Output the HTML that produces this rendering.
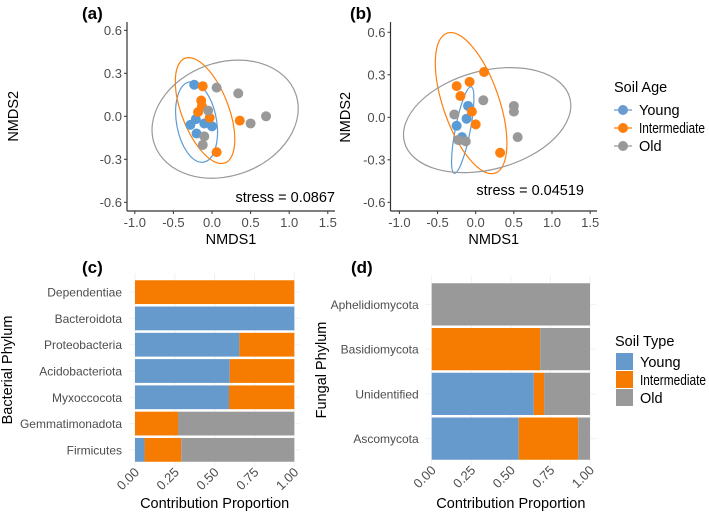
<!DOCTYPE html>
<html><head><meta charset="utf-8"><style>
body{margin:0;background:#fff}
svg{display:block;font-family:"Liberation Sans",sans-serif}
.tk{fill:#4d4d4d;font-size:13px}
.bk{fill:#4d4d4d;font-size:12px}
.ttl{fill:#000;font-size:14.5px}
.pl{font-weight:bold;font-size:17px;fill:#000}
</style></head><body>
<svg id="fig" width="709" height="518" viewBox="0 0 709 518">
<g id="pa"></g>
<g id="pb"></g>
<g id="pc"></g>
<g id="pd"></g>
<g>
<text x="614" y="92" class="ttl" font-size="14.5">Soil Age</text>
<circle cx="623" cy="110" r="5" fill="#6a9bd1"/><line x1="614" x2="632" y1="110" y2="110" stroke="#6a9bd1" stroke-width="1.2"/>
<text x="639" y="115" class="ttl" font-size="13.5">Young</text>
<circle cx="623" cy="128" r="5" fill="#ff7f0e"/><line x1="614" x2="632" y1="128" y2="128" stroke="#ff7f0e" stroke-width="1.2"/>
<text x="639" y="133" class="ttl" font-size="13.5" textLength="66" lengthAdjust="spacingAndGlyphs">Intermediate</text>
<circle cx="623" cy="146" r="5" fill="#999"/><line x1="614" x2="632" y1="146" y2="146" stroke="#999" stroke-width="1.2"/>
<text x="639" y="151" class="ttl" font-size="13.5">Old</text>
</g>
<g>
<text x="615" y="346" class="ttl" font-size="13.5">Soil Type</text>
<rect x="616" y="353" width="17" height="17" fill="#6699cc"/><text x="640" y="367" class="ttl" font-size="13.5">Young</text>
<rect x="616" y="371" width="17" height="17" fill="#f57c00"/><text x="640" y="385" class="ttl" font-size="13.5" textLength="66" lengthAdjust="spacingAndGlyphs">Intermediate</text>
<rect x="616" y="389" width="17" height="17" fill="#999"/><text x="640" y="403" class="ttl" font-size="13.5">Old</text>
</g>
</svg>
<script>
const NS="http://www.w3.org/2000/svg";
// Panel (a) data
const aYoungX=[-0.23,-0.21,-0.28,-0.10,0.0,-0.20];
const aYoungY=[0.22,-0.02,-0.06,-0.05,-0.07,-0.12];
const aInterX=[-0.12,-0.14,-0.13,-0.18,-0.03,0.36,0.06];
const aInterY=[0.21,0.11,0.07,0.03,-0.01,-0.03,-0.25];
const aOldX=[0.06,0.34,-0.05,-0.10,-0.12,0.50,0.70];
const aOldY=[0.20,0.16,0.04,-0.14,-0.20,-0.05,0.0];
// Panel (b) data
const bYoungX=[-0.10,-0.12,-0.25,-0.18,-0.21];
const bYoungY=[0.08,-0.01,-0.06,-0.14,-0.16];
const bInterX=[0.11,-0.25,-0.08,-0.20,-0.05,0.0,0.32];
const bInterY=[0.32,0.22,0.25,0.15,0.04,-0.05,-0.25];
const bOldX=[0.10,-0.28,0.50,0.50,0.55,-0.13,-0.23];
const bOldY=[0.12,0.02,0.08,0.04,-0.14,-0.17,-0.16];
const xTicks=[-1.0,-0.5,0.0,0.5,1.0,1.5];
const yTicks=[0.6,0.3,0.0,-0.3,-0.6];
// Panel (c) data
const cCats=["Dependentiae","Bacteroidota","Proteobacteria","Acidobacteriota","Myxoccocota","Gemmatimonadota","Firmicutes"];
const cYoung=[0,1,0.655,0.595,0.59,0,0.06];
const cInter=[1,0,0.345,0.405,0.41,0.27,0.23];
const cOld=[0,0,0,0,0,0.73,0.71];
// Panel (d) data
const dCats=["Aphelidiomycota","Basidiomycota","Unidentified","Ascomycota"];
const dYoung=[0,0,0.645,0.55];
const dInter=[0,0.685,0.065,0.375];
const dOld=[1,0.315,0.29,0.075];
const pTicks=["0.00","0.25","0.50","0.75","1.00"];

function el(p,t,a,txt){const e=document.createElementNS(NS,t);for(const k in a)e.setAttribute(k,a[k]);if(txt!==undefined)e.textContent=txt;p.appendChild(e);return e;}

function scatter(g,o){
  const sx=v=>o.x0+v*o.kx, sy=v=>o.y0-v*o.ky;
  el(g,"line",{x1:o.ax,x2:o.ax,y1:22,y2:o.by,stroke:"#333","stroke-width":1.2});
  el(g,"line",{x1:o.ax,x2:o.rx,y1:o.by,y2:o.by,stroke:"#333","stroke-width":1.2});
  xTicks.forEach(v=>{el(g,"line",{x1:sx(v),x2:sx(v),y1:o.by,y2:o.by+3,stroke:"#333"});
    const t=el(g,"text",{x:sx(v),y:o.by+16,"text-anchor":"middle",class:"tk"},v.toFixed(1));
    
    });
  yTicks.forEach(v=>{el(g,"line",{x1:o.ax-3,x2:o.ax,y1:sy(v),y2:sy(v),stroke:"#333"});
    const t=el(g,"text",{x:o.ax-5,y:sy(v)+4.5,"text-anchor":"end",class:"tk"},v.toFixed(1));
    
    });
  o.ell.forEach(e=>{const c=sx(e[0]),d=sy(e[1]);
    const q=el(g,"ellipse",{cx:c,cy:d,rx:e[2],ry:e[3],transform:`rotate(${e[4]} ${c} ${d})`,fill:"none",stroke:e[5],"stroke-width":1.2});
    
    });
  o.series.forEach(s=>{s[0].forEach((v,i)=>{
    const p=el(g,"circle",{cx:sx(v),cy:sy(s[1][i]),r:5,fill:s[2]});
    
    });});
  const xt=el(g,"text",{x:(o.ax+o.rx)/2,y:o.by+33,"text-anchor":"middle",class:"ttl"},"NMDS1");
  
  
  const yt=el(g,"text",{x:0,y:0,transform:`translate(${o.ytx} ${sy(0)}) rotate(-90)`,"text-anchor":"middle",class:"ttl"},"NMDS2");
  
  
  const st=el(g,"text",{x:o.stx,y:o.sty,"text-anchor":"end",class:"ttl"},o.stress);
  
  
  const pl=el(g,"text",{x:o.plx,y:19,class:"pl"},o.label);
  
  
}
scatter(document.getElementById("pa"),{x0:212,kx:77.2,y0:116.3,ky:143.3,ax:127,rx:335,by:211,ytx:18,stx:335,sty:202,stress:"stress = 0.0867",plx:82,label:"(a)",
  series:[[aYoungX,aYoungY,"#5b9bd5"],[aInterX,aInterY,"#ff7f0e"],[aOldX,aOldY,"#999"]],
  ell:[[-0.2,-0.04,20,40.7,-10,"#5b9bd5"],[-0.09,0.04,23.5,56,-21,"#ff7f0e"],[0.17,-0.02,75,56.6,-20,"#999"]]});
scatter(document.getElementById("pb"),{x0:475.7,kx:76.3,y0:117.3,ky:141.7,ax:390.5,rx:597,by:211,ytx:350,stx:584,sty:195,stress:"stress = 0.04519",plx:350,label:"(b)",
  series:[[bYoungX,bYoungY,"#5b9bd5"],[bInterX,bInterY,"#ff7f0e"],[bOldX,bOldY,"#999"]],
  ell:[[-0.17,-0.09,7.5,44,11,"#5b9bd5"],[-0.06,0.10,28,74,-19,"#ff7f0e"],[0.15,-0.02,85.6,49.3,-15,"#999"]]});

function bars(g,o){
  const sx=v=>o.x0+v*(o.x1-o.x0);
  const n=o.cats.length, step=(o.bottom-o.top)/n;
  pTicks.forEach((t,i)=>{const v=i/4;
    el(g,"line",{x1:sx(v),x2:sx(v),y1:o.top-6,y2:o.bottom+4,stroke:"#f0f0f0"});
    const tx=el(g,"text",{x:0,y:0,transform:`translate(${sx(v)+5} ${o.bottom+10}) rotate(-45)`,"text-anchor":"end",class:"tk"},t);
    
    });
  o.cats.forEach((c,i)=>{const yc=o.top+step*(i+0.5), h=step-2.5;
    el(g,"line",{x1:o.x0-6,x2:o.x1+6,y1:yc,y2:yc,stroke:"#f0f0f0"});
    let acc=0;
    [[o.young[i],"#6699cc"],[o.inter[i],"#f57c00"],[o.old[i],"#999"]].forEach(s=>{
      if(s[0]>0){const r=el(g,"rect",{x:sx(acc),y:yc-h/2,width:sx(acc+s[0])-sx(acc),height:h,fill:s[1]});
        
        }
      acc+=s[0];});
    const lb=el(g,"text",{x:o.x0-13,y:yc+4.5,"text-anchor":"end",class:"bk"},c);
    
    });
  const xt=el(g,"text",{x:(o.x0+o.x1)/2,y:508,"text-anchor":"middle",class:"ttl"},"Contribution Proportion");
  
  
  const yt=el(g,"text",{x:0,y:0,transform:`translate(${o.ytx} 370) rotate(-90)`,"text-anchor":"middle",class:"ttl"},o.ytitle);
  
  
  const pl=el(g,"text",{x:o.plx,y:273,class:"pl"},o.label);
  
  
}
bars(document.getElementById("pc"),{x0:135,x1:294.3,top:279,bottom:463,cats:cCats,young:cYoung,inter:cInter,old:cOld,ytx:12,ytitle:"Bacterial Phylum",plx:82,label:"(c)"});
bars(document.getElementById("pd"),{x0:431.7,x1:590,top:282,bottom:461,cats:dCats,young:dYoung,inter:dInter,old:dOld,ytx:326,ytitle:"Fungal Phylum",plx:351,label:"(d)"});
</script>
</body></html>
